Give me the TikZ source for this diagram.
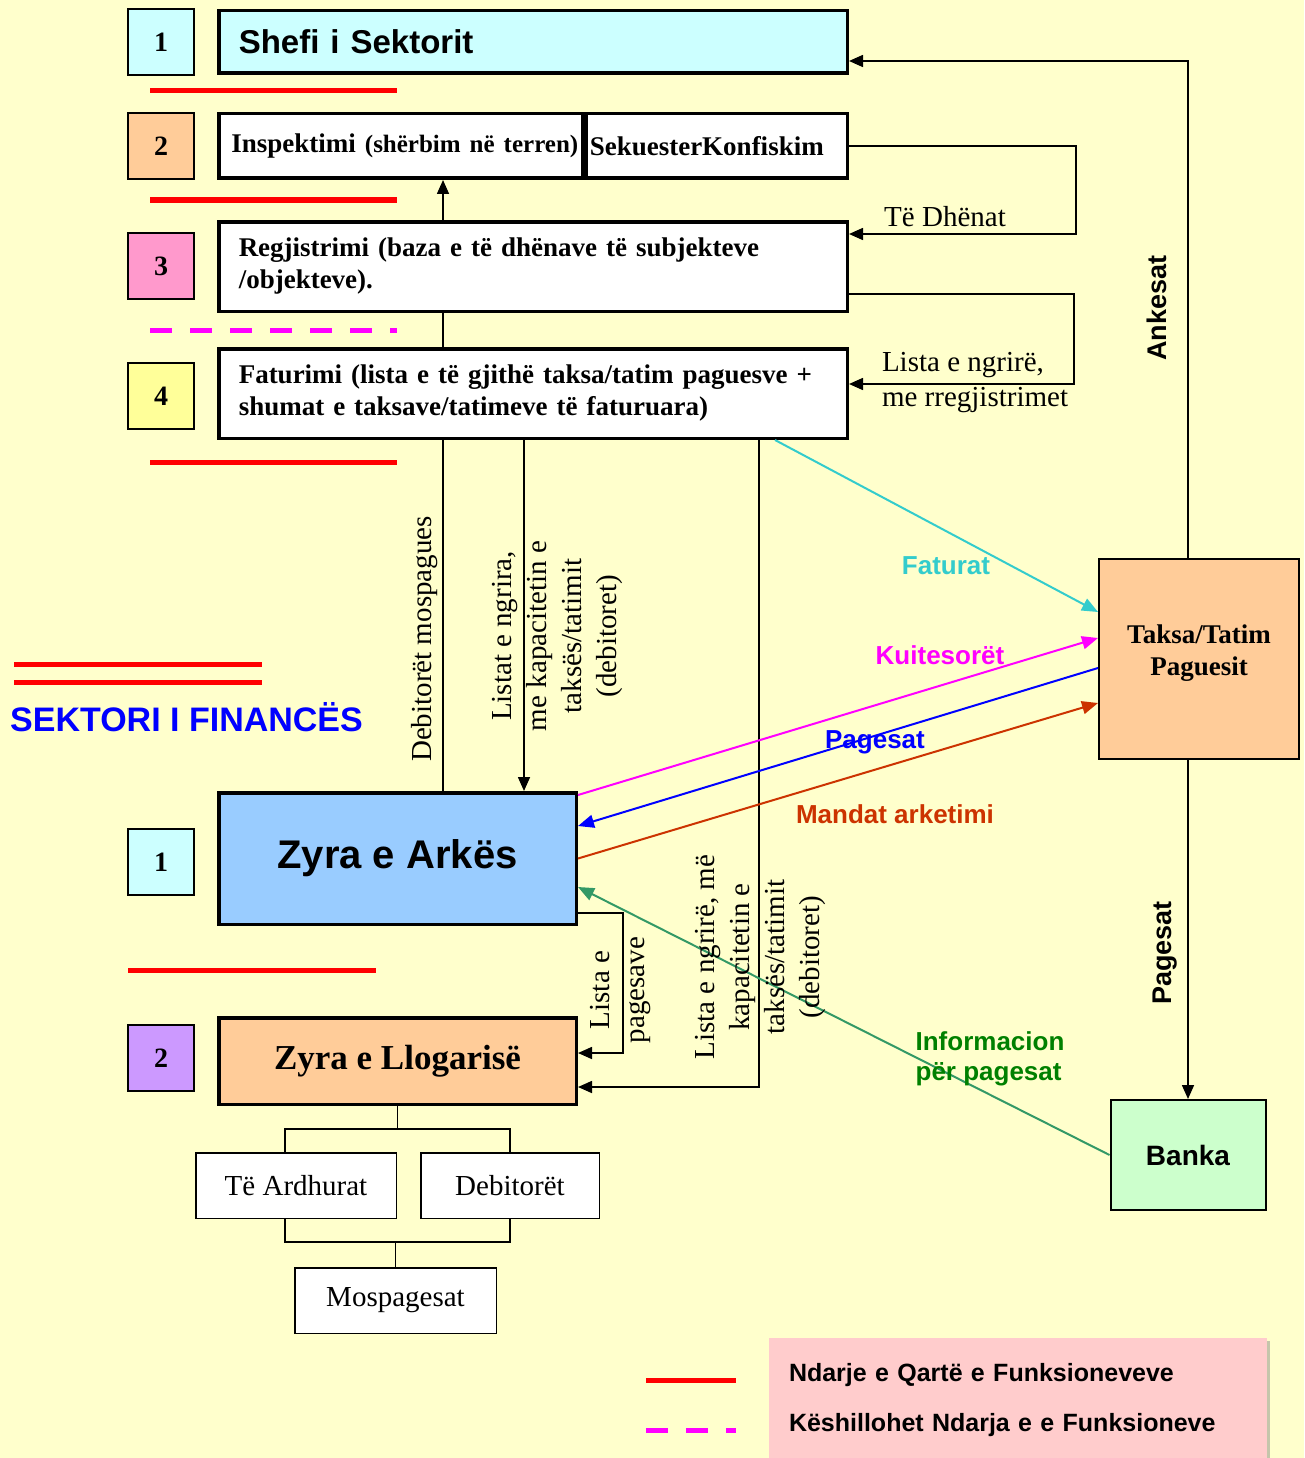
\documentclass[tikz,border=0pt]{standalone}
\usepackage{fontspec}
\setmainfont{Liberation Serif}
\setsansfont{Liberation Sans}
\usepackage{tikz}
\usetikzlibrary{arrows.meta,positioning,shadows,calc}
\definecolor{bgcream}{RGB}{255,255,204}
\definecolor{boxcyan}{RGB}{204,255,255}
\definecolor{boxpeach}{RGB}{255,204,153}
\definecolor{boxpink}{RGB}{255,153,204}
\definecolor{boxyellow}{RGB}{255,255,153}
\definecolor{boxlilac}{RGB}{204,153,255}
\definecolor{boxblue}{RGB}{153,204,255}
\definecolor{boxgreen}{RGB}{204,255,204}
\definecolor{boxrose}{RGB}{255,204,204}
\definecolor{flowcyan}{RGB}{51,204,204}
\definecolor{flowmagenta}{RGB}{255,0,255}
\definecolor{flowblue}{RGB}{0,0,255}
\definecolor{flowred}{RGB}{204,51,0}
\definecolor{flowgreen}{RGB}{51,153,102}
\definecolor{textgreen}{RGB}{0,128,0}
\definecolor{linered}{RGB}{255,0,0}
\newcommand{\fsize}[2]{\fontsize{#1}{#2}\selectfont}
\pgfdeclarelayer{bg}
\pgfdeclarelayer{under}
\pgfsetlayers{bg,under,main}

\begin{document}
\begin{tikzpicture}[
  x=1pt, y=-1pt,
  numbox/.style={draw, line width=1.5pt, minimum size=66pt, inner sep=0pt,
    font=\bfseries\fsize{28}{30}},
  topbox/.style={draw, line width=3.5pt, fill=white, inner xsep=20pt,
    align=left, font=\bfseries\fsize{27}{32}},
  office/.style={draw, line width=3.5pt, minimum width=357.5pt},
  subbox/.style={draw, line width=1.5pt, fill=white, minimum height=65.5pt,
    font=\fsize{29}{34}},
  arr/.style={-{Triangle[length=14pt,width=12pt]}, line width=1.6pt},
  flowarr/.style={-{Triangle[length=16pt,width=13pt]}, line width=2pt},
  tree/.style={line width=1.5pt},
  sepline/.style={linered, line width=5pt},
  sepdash/.style={flowmagenta, line width=5pt, dash pattern=on 22pt off 18pt},
  lbl/.style={font=\fsize{29}{35}},
  vlbl/.style={lbl, rotate=90, align=center},
  sidelbl/.style={font=\sffamily\bfseries\fsize{27}{30}},
  flowlbl/.style={font=\sffamily\bfseries\fsize{26}{30}},
]
\useasboundingbox (0,0) rectangle (1304,1458);
\begin{pgfonlayer}{bg}
\fill[bgcream] (0,0) rectangle (1304,1458);
\end{pgfonlayer}

% NUMBERS (left)
\node[numbox, fill=boxcyan] (n1) at (161,42) {1};
\node[numbox, fill=boxpeach] (n2) at (161,146) {2};
\node[numbox, fill=boxpink] (n3) at (161,266) {3};
\node[numbox, fill=boxyellow] (n4) at (161,396) {4};
\node[numbox, fill=boxcyan] (f1) at (161,862) {1};
\node[numbox, fill=boxlilac] (f2) at (161,1058) {2};

% SEPARATORS
\draw[sepline] (150,91) -- (397,91);
\draw[sepline] (150,200) -- (397,200);
\draw[sepdash] (150,330) -- (397,330);
\draw[sepline] (150,462) -- (397,462);
\draw[sepline] (128,970) -- (376,970);

% TAX SECTOR
\node[topbox, fill=boxcyan, text width=588.5pt, minimum height=62.5pt,
  font=\sffamily\bfseries\fsize{33}{36}] (shefi) at (533,42) {Shefi i Sektorit};
\node[topbox, inner xsep=4pt, text width=355.5pt, align=right,
  minimum height=64.5pt] (insp) at (400.5,146)
  {Inspektimi {\fsize{25}{28}(shërbim në terren)}};
\node[topbox, inner xsep=4pt, text width=253.5pt, minimum height=64.5pt]
  (sekuester) at (716.5,146) {SekuesterKonfiskim};
\node[topbox, text width=588.5pt, minimum height=89.5pt] (regj) at (533,266.5)
  {Regjistrimi (baza e të dhënave të subjekteve\\/objekteve).};
\node[topbox, text width=588.5pt, minimum height=89.5pt] (fat) at (533,393.5)
  {Faturimi (lista e të gjithë taksa/tatim paguesve +\\shumat e taksave/tatimeve të faturuara)};

% FINANCE SECTOR
\draw[sepline] (14,664) -- (262,664);
\draw[sepline] (14,682) -- (262,682);
\node[anchor=west, inner sep=0pt, text=flowblue, font=\sffamily\bfseries\fsize{34}{36}]
  (fin) at (10,717) {SEKTORI I FINANCËS};
\node[office, fill=boxblue, minimum height=131.5pt,
  font=\sffamily\bfseries\fsize{40}{44}] (arkes) at (397.5,858.5) {Zyra e Arkës};
\node[office, fill=boxpeach, minimum height=86.5pt,
  font=\bfseries\fsize{35}{40}] (llog) at (397.5,1061) {Zyra e Llogarisë};
\node[subbox, minimum width=200.5pt] (ardh) at (296,1185.5) {Të Ardhurat};
\node[subbox, minimum width=178.5pt] (debi) at (510,1185.5) {Debitorët};
\node[subbox, minimum width=201.5pt] (mosp) at (395.5,1300.5) {Mospagesat};

% OUTSIDE
\node[draw, line width=2pt, fill=boxpeach, minimum size=200pt, align=center,
  text depth=18pt, font=\bfseries\fsize{27}{32}] (taksa) at (1199,659)
  {Taksa/Tatim\\Paguesit};
\node[draw, line width=2pt, fill=boxgreen, minimum width=155pt, minimum height=110pt,
  font=\sffamily\bfseries\fsize{28}{32}] (banka) at (1188,1155) {Banka};

% LEGEND
\node[fill=boxrose, drop shadow={shadow xshift=3pt, shadow yshift=-3pt, fill=black!45},
  minimum width=498pt, minimum height=124pt, text width=458pt, inner xsep=20pt,
  align=left, font=\sffamily\bfseries\fsize{25}{50}] (legend) at (1018,1400)
  {Ndarje e Qartë e Funksioneveve\\Këshillohet Ndarja e e Funksioneve};
\draw[sepline] (646,1380) -- (736,1380);
\draw[sepdash] (646,1430) -- (736,1430);

% ARROWS
\draw[arr] ([xshift=-11pt]taksa.north) |- ([yshift=-19pt]shefi.east);
\draw[arr] (sekuester.east) -- ++(227,0) |- ([yshift=-14pt]regj.north east);
\draw[arr] ([yshift=-27.5pt]regj.east) -- ++(225,0) |- ([yshift=9.5pt]fat.east);
\begin{pgfonlayer}{under}
\draw[arr] ([xshift=45.5pt]arkes.north) -- ([xshift=42.5pt]insp.south);
\end{pgfonlayer}
\draw[arr] ([xshift=-9pt]fat.south) -- ([xshift=126.5pt]arkes.north);
\draw[arr] ([xshift=226pt]fat.south) |- ([yshift=-26pt]llog.east);
\draw[arr] ([yshift=-54.5pt]arkes.east) -- ++(45,0) |- ([yshift=8pt]llog.east);
\draw[arr] ([xshift=-11pt]taksa.south) -- (banka.north);
\draw[flowarr, flowcyan] ([xshift=242pt]fat.south) -- ([yshift=47pt]taksa.west);
\draw[flowarr, flowmagenta] ([yshift=-4pt]arkes.north east) -- ([yshift=21pt]taksa.west);
\draw[flowarr, flowblue] ([yshift=-9pt]taksa.west) -- ([yshift=32.5pt]arkes.east);
\draw[flowarr, flowred] (arkes.east) -- ([yshift=-44pt]taksa.west);
\draw[flowarr, flowgreen] (banka.west) -- ([yshift=-28.5pt]arkes.east);

% TREE
\draw[tree] (llog.south) -- ++(0,23) coordinate (tsplit);
\draw[tree] ([xshift=-11pt]ardh.north) |- (tsplit) -| (debi.north);
\draw[tree] (mosp.north) -- ++(0,-25) coordinate (tjoin);
\draw[tree] ([xshift=-11pt]ardh.south) |- (tjoin) -| (debi.south);

% LABELS
\node[sidelbl, rotate=90] (lankesat) at (1157,308) {Ankesat};
\node[sidelbl, rotate=90] (lpagesat) at (1165,953) {Pagesat};
\node[lbl] (ldhenat) at (945,217) {Të Dhënat};
\node[lbl, align=left] (llista) at (975,383) {Lista e ngrirë,\\me rregjistrimet};
\node[vlbl] (ldebmos) at (425,639) {Debitorët mospagues};
\node[vlbl] (llistat) at (557,636)
  {Listat e ngrira,\\me kapacitetin e\\taksës/tatimit\\(debitoret)};
\node[vlbl] (llistangr) at (760,957)
  {Lista e ngrirë, më\\kapacitetin e\\taksës/tatimit\\(debitoret)};
\node[vlbl] (lpagesave) at (621,990) {Lista e\\pagesave};
\node[flowlbl, text=flowcyan] (lfaturat) at (946,566) {Faturat};
\node[flowlbl, text=flowmagenta] (lkuit) at (940,655) {Kuitesorët};
\node[flowlbl, text=flowblue] (lpag) at (875,742) {Pagesat};
\node[flowlbl, text=flowred] (lmandat) at (895,814) {Mandat arketimi};
\node[flowlbl, text=textgreen, align=left] (linfo) at (990,1059) {Informacion\\për pagesat};
\end{tikzpicture}
\end{document}
